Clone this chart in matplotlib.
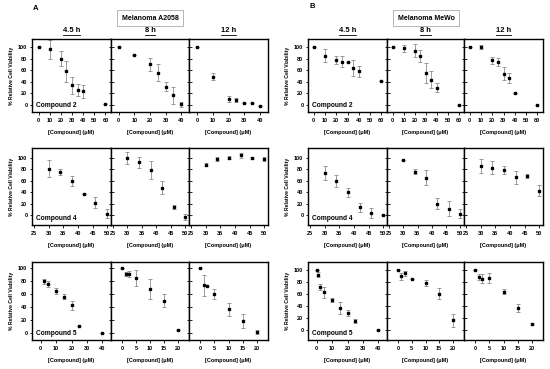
import matplotlib
matplotlib.use('Agg')
from matplotlib import pyplot as plt
from matplotlib.lines import Line2D

plt.rcParams['font.family'] = ['Liberation Sans', 'DejaVu Sans']
plt.rcParams['font.weight'] = 'bold'

W, H = 550, 369

# concentrations (uM)
conc_c2_a = [0, 10, 20, 25, 30, 35, 40, 60]
conc_c2_b = [0, 10, 20, 25, 30, 35, 40]
conc_c4 = [30, 34, 38, 42, 46, 50]
conc_c5_a = [2.5, 5, 10, 15, 20, 25, 40]
conc_c5_b = [0, 1.25, 2.5, 5, 10, 15, 20, 25, 40]
conc_c5_t = [0, 1.25, 2.5, 5, 10, 15, 20]

# Melanoma A2058 - viability and error
a_c2_45 = [100, 96, 80, 58, 34, 26, 24, 1]
a_c2_45_err = [0, 16, 13, 18, 15, 11, 11, 0]
a_c2_8 = [100, 87, 70, 56, 32, 17, 1]
a_c2_8_err = [0, 0, 11, 15, 8, 15, 5]
a_c2_12 = [100, 49, 11, 9, 4, 3, -1]
a_c2_12_err = [0, 6, 5, 4, 0, 0, 0]
a_c4_45 = [81, 75, 60, 37, 22, 3]
a_c4_45_err = [15, 5, 9, 0, 9, 7]
a_c4_8 = [100, 92, 79, 48, 14, -3]
a_c4_8_err = [10, 10, 16, 11, 3, 6]
a_c4_12 = [88, 98, 100, 104, 100, 98]
a_c4_12_err = [3, 4, 3, 5, 2, 4]
a_c5_45 = [80, 76, 65, 56, 43, 10, 0]
a_c5_45_err = [4, 5, 5, 4, 7, 0, 0]
a_c5_8 = [101, 92, 91, 85, 68, 50, 5]
a_c5_8_err = [0, 3, 5, 13, 15, 10, 0]
a_c5_12 = [100, 74, 73, 60, 37, 19, 1]
a_c5_12_err = [0, 16, 0, 8, 10, 11, 3]

# Melanoma MeWo - viability and error
b_c2_45 = [100, 85, 77, 75, 74, 64, 58, 42]
b_c2_45_err = [0, 11, 7, 10, 0, 13, 9, 0]
b_c2_8 = [100, 98, 94, 85, 55, 44, 30, 0]
b_c2_8_err = [0, 6, 11, 10, 17, 14, 8, 0]
b_c2_12 = [100, 100, 77, 74, 54, 47, 21, 0]
b_c2_12_err = [0, 3, 6, 7, 11, 9, 0, 0]
b_c4_45 = [73, 60, 40, 14, 4, 0]
b_c4_45_err = [12, 10, 8, 8, 8, 0]
b_c4_8 = [96, 76, 65, 20, 11, 3]
b_c4_8_err = [0, 5, 13, 10, 13, 7]
b_c4_12 = [86, 83, 79, 66, 68, 43]
b_c4_12_err = [12, 12, 7, 11, 3, 10]
b_c5_45 = [100, 93, 72, 63, 50, 36, 28, 15, 0]
b_c5_45_err = [0, 4, 5, 9, 4, 10, 5, 3, 0]
b_c5_8 = [100, 90, 95, 86, 79, 61, 16]
b_c5_8_err = [0, 6, 4, 0, 5, 9, 11]
b_c5_12 = [100, 89, 86, 87, 64, 37, 10]
b_c5_12_err = [0, 5, 8, 9, 4, 7, 2]

times = ['4.5 h', '8 h', '12 h']
compounds = ['Compound 2', 'Compound 4', 'Compound 5']

fig = plt.figure(figsize=(W / 100, H / 100), dpi=100)


def px_axes(x0, x1, y0, y1):
    return fig.add_axes([x0 / W, 1 - y1 / H, (x1 - x0) / W, (y1 - y0) / H])


def panel(ax, x, y, err, xlim, xticks, ylim, col):
    ax.errorbar(x, y, yerr=err, fmt='s', color='black', ms=2.0,
                ecolor='#8c8c8c', elinewidth=0.6, capsize=1.6, capthick=0.6)
    ax.set_xlim(*xlim)
    ax.set_ylim(*ylim)
    ax.set_xticks(xticks)
    ax.set_yticks([0, 20, 40, 60, 80, 100])
    for s in ax.spines.values():
        s.set_linewidth(1.0)
    ax.tick_params(axis='x', length=1.8, width=0.6, pad=2.5, labelsize=4)
    if col == 0:
        ax.tick_params(axis='y', length=1.8, width=0.6, pad=1.5, labelsize=4)
    else:
        ax.tick_params(axis='y', direction='inout', length=3.6, width=0.6,
                       labelleft=False)
    ax.set_xlabel('[Compound] (\u03bcM)', fontsize=4, fontweight='bold', labelpad=5)


cols_x = [[32, 111, 189, 268], [308, 387, 464, 543]]
rows_y = [(39, 112), (148, 225), (262, 340)]

data = [
    [[(conc_c2_a, a_c2_45, a_c2_45_err, (-6, 65), range(0, 61, 10)),
      (conc_c2_b, a_c2_8, a_c2_8_err, (-5, 45), range(0, 41, 10)),
      (conc_c2_b, a_c2_12, a_c2_12_err, (-5, 45), range(0, 41, 10))],
     [(conc_c4, a_c4_45, a_c4_45_err, (24.3, 51.3), range(25, 51, 5)),
      (conc_c4, a_c4_8, a_c4_8_err, (24.3, 51.3), range(25, 51, 5)),
      (conc_c4, a_c4_12, a_c4_12_err, (24.3, 51.3), range(25, 51, 5))],
     [(conc_c5_a, a_c5_45, a_c5_45_err, (-5.5, 45.5), range(0, 41, 10)),
      (conc_c5_t, a_c5_8, a_c5_8_err, (-4, 24), range(0, 21, 5)),
      (conc_c5_t, a_c5_12, a_c5_12_err, (-4, 24), range(0, 21, 5))]],
    [[(conc_c2_a, b_c2_45, b_c2_45_err, (-5, 65), range(0, 61, 10)),
      (conc_c2_a, b_c2_8, b_c2_8_err, (-5, 65), range(0, 61, 10)),
      (conc_c2_a, b_c2_12, b_c2_12_err, (-5, 65), range(0, 61, 10))],
     [(conc_c4, b_c4_45, b_c4_45_err, (24.3, 51.3), range(25, 51, 5)),
      (conc_c4, b_c4_8, b_c4_8_err, (24.3, 51.3), range(25, 51, 5)),
      (conc_c4, b_c4_12, b_c4_12_err, (24.3, 51.3), range(25, 51, 5))],
     [(conc_c5_b, b_c5_45, b_c5_45_err, (-5.5, 45.5), range(0, 41, 10)),
      (conc_c5_t, b_c5_8, b_c5_8_err, (-4, 24), range(0, 21, 5)),
      (conc_c5_t, b_c5_12, b_c5_12_err, (-4, 24), range(0, 21, 5))]],
]

ylims = [[(-12, 114), (-17, 117), (-11, 110)],
         [(-12, 114), (-17, 117), (-17, 114)]]

for b in range(2):
    xs = cols_x[b]
    for r in range(3):
        y0, y1 = rows_y[r]
        for c in range(3):
            ax = px_axes(xs[c], xs[c + 1], y0, y1)
            x, y, e, xl, xt = data[b][r][c]
            panel(ax, x, y, e, xl, list(xt), ylims[b][r], c)
            if c == 0:
                ax.set_ylabel('% Relative Cell Viability', fontsize=3.7,
                              fontweight='bold', labelpad=3)
                ax.text(0.05, 0.04, compounds[r], transform=ax.transAxes,
                        fontsize=4.8, fontweight='bold', ha='left', va='bottom')

# panel letters and headers
fig.text(36 / W, 1 - 8 / H, 'A', fontsize=5.5, fontweight='bold', ha='center', va='center')
fig.text(312 / W, 1 - 6 / H, 'B', fontsize=5.5, fontweight='bold', ha='center', va='center')
for cx, label in [(150, 'Melanoma A2058'), (426, 'Melanoma MeWo')]:
    fig.text(cx / W, 1 - 18 / H, label, fontsize=5.0, fontweight='bold',
             ha='center', va='center',
             bbox=dict(boxstyle='square,pad=0.6', fc='white', ec='#999999', lw=0.5))

time_texts = []
for xs in cols_x:
    for c in range(3):
        cx = (xs[c] + xs[c + 1]) / 2
        t = fig.text(cx / W, 1 - 30 / H, times[c], fontsize=5.4,
                     fontweight='bold', ha='center', va='center')
        time_texts.append(t)

fig.canvas.draw()
renderer = fig.canvas.get_renderer()
for t in time_texts:
    bb = t.get_window_extent(renderer)
    yl = (bb.y0 - 1) / H
    fig.add_artist(Line2D([bb.x0 / W, bb.x1 / W], [yl, yl], color='black',
                          lw=0.6, transform=fig.transFigure))

fig.savefig('out.png', dpi=100)
